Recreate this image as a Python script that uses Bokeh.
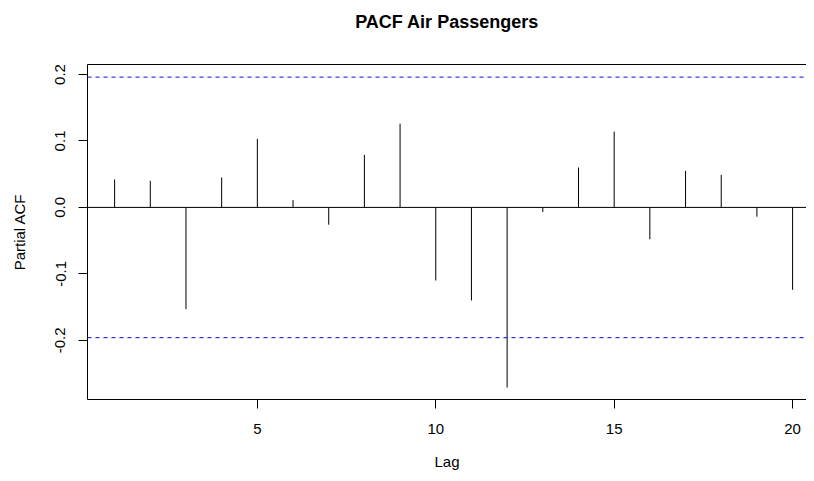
from bokeh.plotting import figure
from bokeh.models import Span, LinearAxis, FixedTicker, PrintfTickFormatter, Range1d
from bokeh.embed import file_html
from bokeh.resources import INLINE

# Data
lags = list(range(1, 21))
pacf = [0.042, 0.040, -0.153, 0.045, 0.103, 0.011, -0.026, 0.079, 0.126, -0.110,
        -0.140, -0.271, -0.007, 0.060, 0.114, -0.048, 0.055, 0.049, -0.014, -0.124]
conf_limit = 0.196
x_ticks = [5, 10, 15, 20]
y_ticks = [-0.2, -0.1, 0.0, 0.1, 0.2]
title_text = "PACF Air Passengers"

FONT = "Liberation Sans"

p = figure(width=806, height=473, output_backend="svg", toolbar_location=None,
           x_range=Range1d(0.24, 20.39), y_range=Range1d(-0.289, 0.215),
           min_border_left=87, min_border_right=0, min_border_top=64, min_border_bottom=74)

p.grid.visible = False
p.outline_line_color = None
p.background_fill_color = "white"
p.border_fill_color = "white"

p.segment(x0=lags, y0=[0] * len(lags), x1=lags, y1=pacf, line_color="black", line_width=1)

p.add_layout(Span(location=0, dimension="width", line_color="black", line_width=1))
for loc in (conf_limit, -conf_limit):
    p.add_layout(Span(location=loc, dimension="width", line_color="#0000FF",
                      line_width=1, line_dash="4 4"))

xa = p.xaxis[0]
xa.ticker = FixedTicker(ticks=x_ticks)
xa.axis_label = "Lag"
ya = p.yaxis[0]
ya.ticker = FixedTicker(ticks=y_ticks)
ya.formatter = PrintfTickFormatter(format="%.1f")
ya.axis_label = "Partial ACF"
ya.major_label_orientation = "vertical"

for ax in (xa, ya):
    ax.axis_line_color = "black"
    ax.major_tick_line_color = "black"
    ax.minor_tick_line_color = None
    ax.major_tick_out = 9
    ax.major_tick_in = 0
    ax.major_label_text_font = FONT
    ax.major_label_text_font_size = "15px"
    ax.major_label_text_color = "black"
    ax.axis_label_text_font = FONT
    ax.axis_label_text_font_size = "15px"
    ax.axis_label_text_font_style = "normal"
    ax.axis_label_text_color = "black"

xa.major_label_standoff = 15
xa.axis_label_standoff = 16
ya.major_label_standoff = 13
ya.axis_label_standoff = 25

# top border of the box, carrying the main title as its label
top = LinearAxis(ticker=FixedTicker(ticks=[]), major_label_text_font_size="0px",
                 major_label_standoff=0, major_tick_out=0, major_tick_in=0,
                 axis_line_color="black", major_tick_line_color=None, minor_tick_line_color=None,
                 axis_label=title_text, axis_label_text_font=FONT,
                 axis_label_text_font_style="bold", axis_label_text_font_size="18px",
                 axis_label_text_color="black", axis_label_standoff=33)
p.add_layout(top, "above")

open("out.html", "w").write(file_html(p, INLINE))
